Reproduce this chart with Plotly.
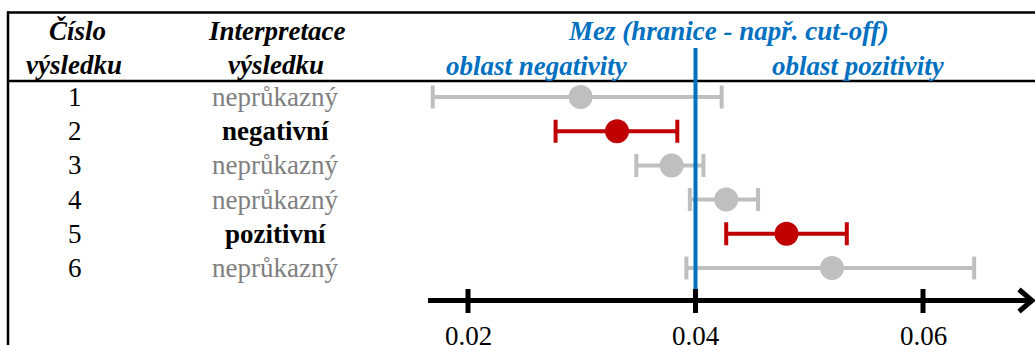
import plotly.graph_objects as go

# ---------------- data ----------------
result_ids = [1, 2, 3, 4, 5, 6]
interpretations = ["neprůkazný", "negativní", "neprůkazný", "neprůkazný", "pozitivní", "neprůkazný"]
estimates = [0.0299, 0.0331, 0.0379, 0.0427, 0.0480, 0.0520]
lower_limits = [0.0169, 0.0277, 0.0348, 0.0395, 0.0427, 0.0392]
upper_limits = [0.0423, 0.0384, 0.0407, 0.0455, 0.0533, 0.0645]
cutoff = 0.04
tick_values = [0.02, 0.04, 0.06]
tick_labels = ["0.02", "0.04", "0.06"]
header_col1 = ["Číslo", "výsledku"]
header_col2 = ["Interpretace", "výsledku"]
cutoff_title = "Mez (hranice - např. cut-off)"
region_labels = ["oblast negativity", "oblast pozitivity"]

# ---------------- layout helpers ----------------
W, H = 1035, 345
FONT = "Liberation Serif, Times New Roman, Times, serif"
FS = 27
GRAY = "#BFBFBF"
GRAY_TXT = "#7F7F7F"
RED = "#C00000"
BLUE = "#0070C0"

def px(x):
    return x / W

def py(y):
    return 1 - y / H

# x axis: 0.02 -> 468px, 0.04 -> 695.5px
scale = 227.5 / 0.02
x0 = 0.02 - 468 / scale
x1 = x0 + W / scale
# y axis: row 1 -> 97px, row spacing 34.2px
row_px = 34.2
y_top = 1 - 97 / row_px
y_bot = y_top + H / row_px

fig = go.Figure()

groups = {"neprůkazný": GRAY, "negativní": RED, "pozitivní": RED}
for color in [GRAY, RED]:
    idx = [i for i, t in enumerate(interpretations) if groups[t] == color]
    fig.add_trace(go.Scatter(
        x=[estimates[i] for i in idx],
        y=[result_ids[i] for i in idx],
        mode="markers",
        marker=dict(size=24, color=color, line=dict(width=0)),
        error_x=dict(
            type="data", symmetric=False,
            array=[upper_limits[i] - estimates[i] for i in idx],
            arrayminus=[estimates[i] - lower_limits[i] for i in idx],
            color=color, thickness=4, width=11.5,
        ),
        showlegend=False, hoverinfo="skip",
    ))

shapes = []
# table frame
shapes.append(dict(type="line", xref="paper", yref="paper", x0=px(7), x1=px(W + 5),
                   y0=py(12.5), y1=py(12.5), line=dict(color="black", width=2.7)))
shapes.append(dict(type="line", xref="paper", yref="paper", x0=px(7), x1=px(W + 5),
                   y0=py(81), y1=py(81), line=dict(color="black", width=2.7)))
shapes.append(dict(type="line", xref="paper", yref="paper", x0=px(8), x1=px(8),
                   y0=py(11.5), y1=py(H + 5), line=dict(color="black", width=2.5)))
# cutoff line
shapes.append(dict(type="line", xref="x", yref="paper", x0=cutoff, x1=cutoff,
                   y0=py(48), y1=py(298), line=dict(color=BLUE, width=4), layer="above"))
# axis line with arrow
axis_y = 300.5
shapes.append(dict(type="line", xref="paper", yref="paper", x0=px(428), x1=px(1032),
                   y0=py(axis_y), y1=py(axis_y), line=dict(color="black", width=5)))
shapes.append(dict(type="path", xref="paper", yref="paper",
                   path=f"M {px(1019)} {py(axis_y - 11)} L {px(1032)} {py(axis_y)} L {px(1019)} {py(axis_y + 11)}",
                   line=dict(color="black", width=5)))
for tv in tick_values:
    shapes.append(dict(type="line", xref="x", yref="paper", x0=tv, x1=tv,
                       y0=py(289), y1=py(313), line=dict(color="black", width=5)))

annotations = []

def ann(text, x, y, size=FS, color="black", xref="paper", yref="paper", bold=False, italic=False):
    t = text
    if bold:
        t = f"<b>{t}</b>"
    if italic:
        t = f"<i>{t}</i>"
    annotations.append(dict(text=t, x=x, y=y, xref=xref, yref=yref, showarrow=False,
                            xanchor="center", yanchor="middle",
                            font=dict(family=FONT, size=size, color=color)))

ann(header_col1[0], px(77), py(31), bold=True, italic=True)
ann(header_col1[1], px(74), py(65), bold=True, italic=True)
ann(header_col2[0], px(276), py(31), bold=True, italic=True)
ann(header_col2[1], px(276), py(65), bold=True, italic=True)
ann(cutoff_title, px(728), py(31), color=BLUE, bold=True, italic=True)
ann(region_labels[0], px(537), py(66), color=BLUE, bold=True, italic=True)
ann(region_labels[1], px(858), py(66), color=BLUE, bold=True, italic=True)

for rid, txt in zip(result_ids, interpretations):
    ann(str(rid), px(75), rid, yref="y")
    if txt == "neprůkazný":
        ann(txt, px(275), rid, yref="y", color=GRAY_TXT)
    else:
        ann(txt, px(275), rid, yref="y", bold=True)

for tv, tl in zip(tick_values, tick_labels):
    ann(tl, tv, py(336), xref="x")

fig.update_layout(
    width=W, height=H,
    margin=dict(l=0, r=0, t=0, b=0, pad=0),
    paper_bgcolor="white", plot_bgcolor="white",
    font=dict(family=FONT),
    xaxis=dict(range=[x0, x1], visible=False, fixedrange=True),
    yaxis=dict(range=[y_bot, y_top], visible=False, fixedrange=True),
    shapes=shapes, annotations=annotations,
    showlegend=False,
)

fig.write_html("out.html", config={"displayModeBar": False},
               post_script="document.body.style.margin='0';document.body.style.overflow='hidden';")
